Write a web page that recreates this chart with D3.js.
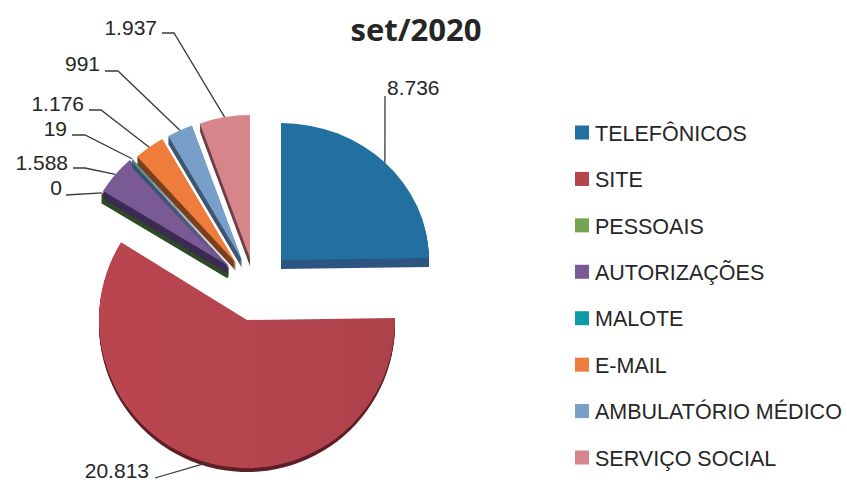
<!DOCTYPE html>
<html>
<head>
<meta charset="utf-8">
<script src="https://cdn.jsdelivr.net/npm/d3@7"></script>
<style>
body { margin: 0; background: #fff; }
text { font-family: "Liberation Sans", sans-serif; fill: #262626; }
text.title { font-family: "Open Sans", sans-serif; }
</style>
</head>
<body>
<div id="chart"></div>
<script>
var categories = ["TELEFÔNICOS", "SITE", "PESSOAIS", "AUTORIZAÇÕES", "MALOTE", "E-MAIL", "AMBULATÓRIO MÉDICO", "SERVIÇO SOCIAL"];
var values = [8736, 20813, 0, 1588, 19, 1176, 991, 1937];
var valueLabels = ["8.736", "20.813", "0", "1.588", "19", "1.176", "991", "1.937"];
var colors = ["#22709f", "#b5444d", "#76a552", "#7a5a94", "#0f9aa8", "#ee7d3b", "#779fc7", "#d6858b"];
var wallColors = ["#2d5583", "#5e1f27", "#2f4a26", "#3d2a55", "#13505a", "#7a3f1c", "#3f5572", "#6e4047"];

var w = 847;
var h = 482;
var r = 148;

// exploded slice apex, vertical squash and wall depth, same order as categories
var apexX = [281, 247, 228, 229, 231, 236, 242, 250];
var apexY = [260, 320, 268, 266, 265, 263, 260, 258];
var squash = [0.925, 1, 0.966, 0.966, 0.966, 0.966, 0.966, 0.966];
var depth = [9, 4, 9, 8, 8, 8, 8, 8];

// where the value text sits and where its leader line bends
var labelX = [387, 149, 62, 68, 67, 84, 100, 157];
var labelY = [87, 470, 187, 162, 128, 103, 63, 27];
var elbowX = [385, 155, 66, 85, 85, 101, 118, 174];
var elbowY = [96, 478, 195, 168, 135, 110, 71, 33];

var svg = d3.select("#chart")
	.append("svg")
	.attr("width", w)
	.attr("height", h);

var grad = svg.append("defs")
	.append("linearGradient")
	.attr("id", "siteGradient")
	.attr("x1", "0%")
	.attr("y1", "0%")
	.attr("x2", "100%")
	.attr("y2", "0%");
grad.append("stop").attr("offset", "0%").attr("stop-color", "#b9454f");
grad.append("stop").attr("offset", "60%").attr("stop-color", "#b4454e");
grad.append("stop").attr("offset", "100%").attr("stop-color", "#ad414a");

var pie = d3.pie().sort(null).value(function(d) { return d; });
var slices = pie(values);
var arc = d3.arc().innerRadius(0).outerRadius(r);

// draw back to front so the walls stack properly
var order = [0, 2, 3, 4, 5, 6, 7, 1];

order.forEach(function(i) {
	var d = slices[i];
	var g = svg.append("g").attr("class", "slice");

	g.selectAll("path.wall")
		.data(d3.range(depth[i], 0, -1))
		.join("path")
		.attr("class", "wall")
		.attr("d", arc(d))
		.attr("fill", wallColors[i])
		.attr("stroke", values[i] == 0 ? wallColors[i] : "none")
		.attr("stroke-width", values[i] == 0 ? 3 : 0)
		.attr("transform", function(k) {
			return "translate(" + apexX[i] + "," + (apexY[i] + k) + ") scale(1," + squash[i] + ")";
		});

	if (values[i] > 0) {
		g.append("path")
			.attr("d", arc(d))
			.attr("fill", i == 1 ? "url(#siteGradient)" : colors[i])
			.attr("transform", "translate(" + apexX[i] + "," + apexY[i] + ") scale(1," + squash[i] + ")");
	}
});

var line = d3.line();

slices.forEach(function(d, i) {
	var mid = (d.startAngle + d.endAngle) / 2;
	var tip = [
		apexX[i] + Math.sin(mid) * r,
		apexY[i] - Math.cos(mid) * r * squash[i]
	];
	var textEnd = i == 0 ? "start" : "end";
	var pts = [[elbowX[i], elbowY[i]], tip];
	if (i > 1) {
		pts.unshift([labelX[i] + 5, elbowY[i]]);
	}

	svg.append("path")
		.attr("d", line(pts))
		.attr("fill", "none")
		.attr("stroke", "#3a3a3a")
		.attr("stroke-width", 1.3);

	svg.append("text")
		.attr("x", labelX[i])
		.attr("y", labelY[i])
		.attr("dy", "0.36em")
		.attr("text-anchor", textEnd)
		.attr("font-size", 21)
		.text(valueLabels[i]);
});

svg.append("text")
	.attr("class", "title")
	.attr("x", 416)
	.attr("y", 30)
	.attr("dy", "0.36em")
	.attr("text-anchor", "middle")
	.attr("font-size", 31)
	.attr("font-weight", "bold")
	.text("set/2020");

var legendY = d3.scalePoint().domain(categories).range([133, 458]);

var legend = svg.selectAll("g.legend")
	.data(categories)
	.join("g")
	.attr("class", "legend")
	.attr("transform", function(d) { return "translate(575," + legendY(d) + ")"; });

legend.append("rect")
	.attr("y", -7.5)
	.attr("width", 14)
	.attr("height", 14)
	.attr("fill", function(d, i) { return colors[i]; });

legend.append("text")
	.attr("x", 20)
	.attr("dy", "0.36em")
	.attr("font-size", 21.5)
	.text(function(d) { return d; });
</script>
</body>
</html>
